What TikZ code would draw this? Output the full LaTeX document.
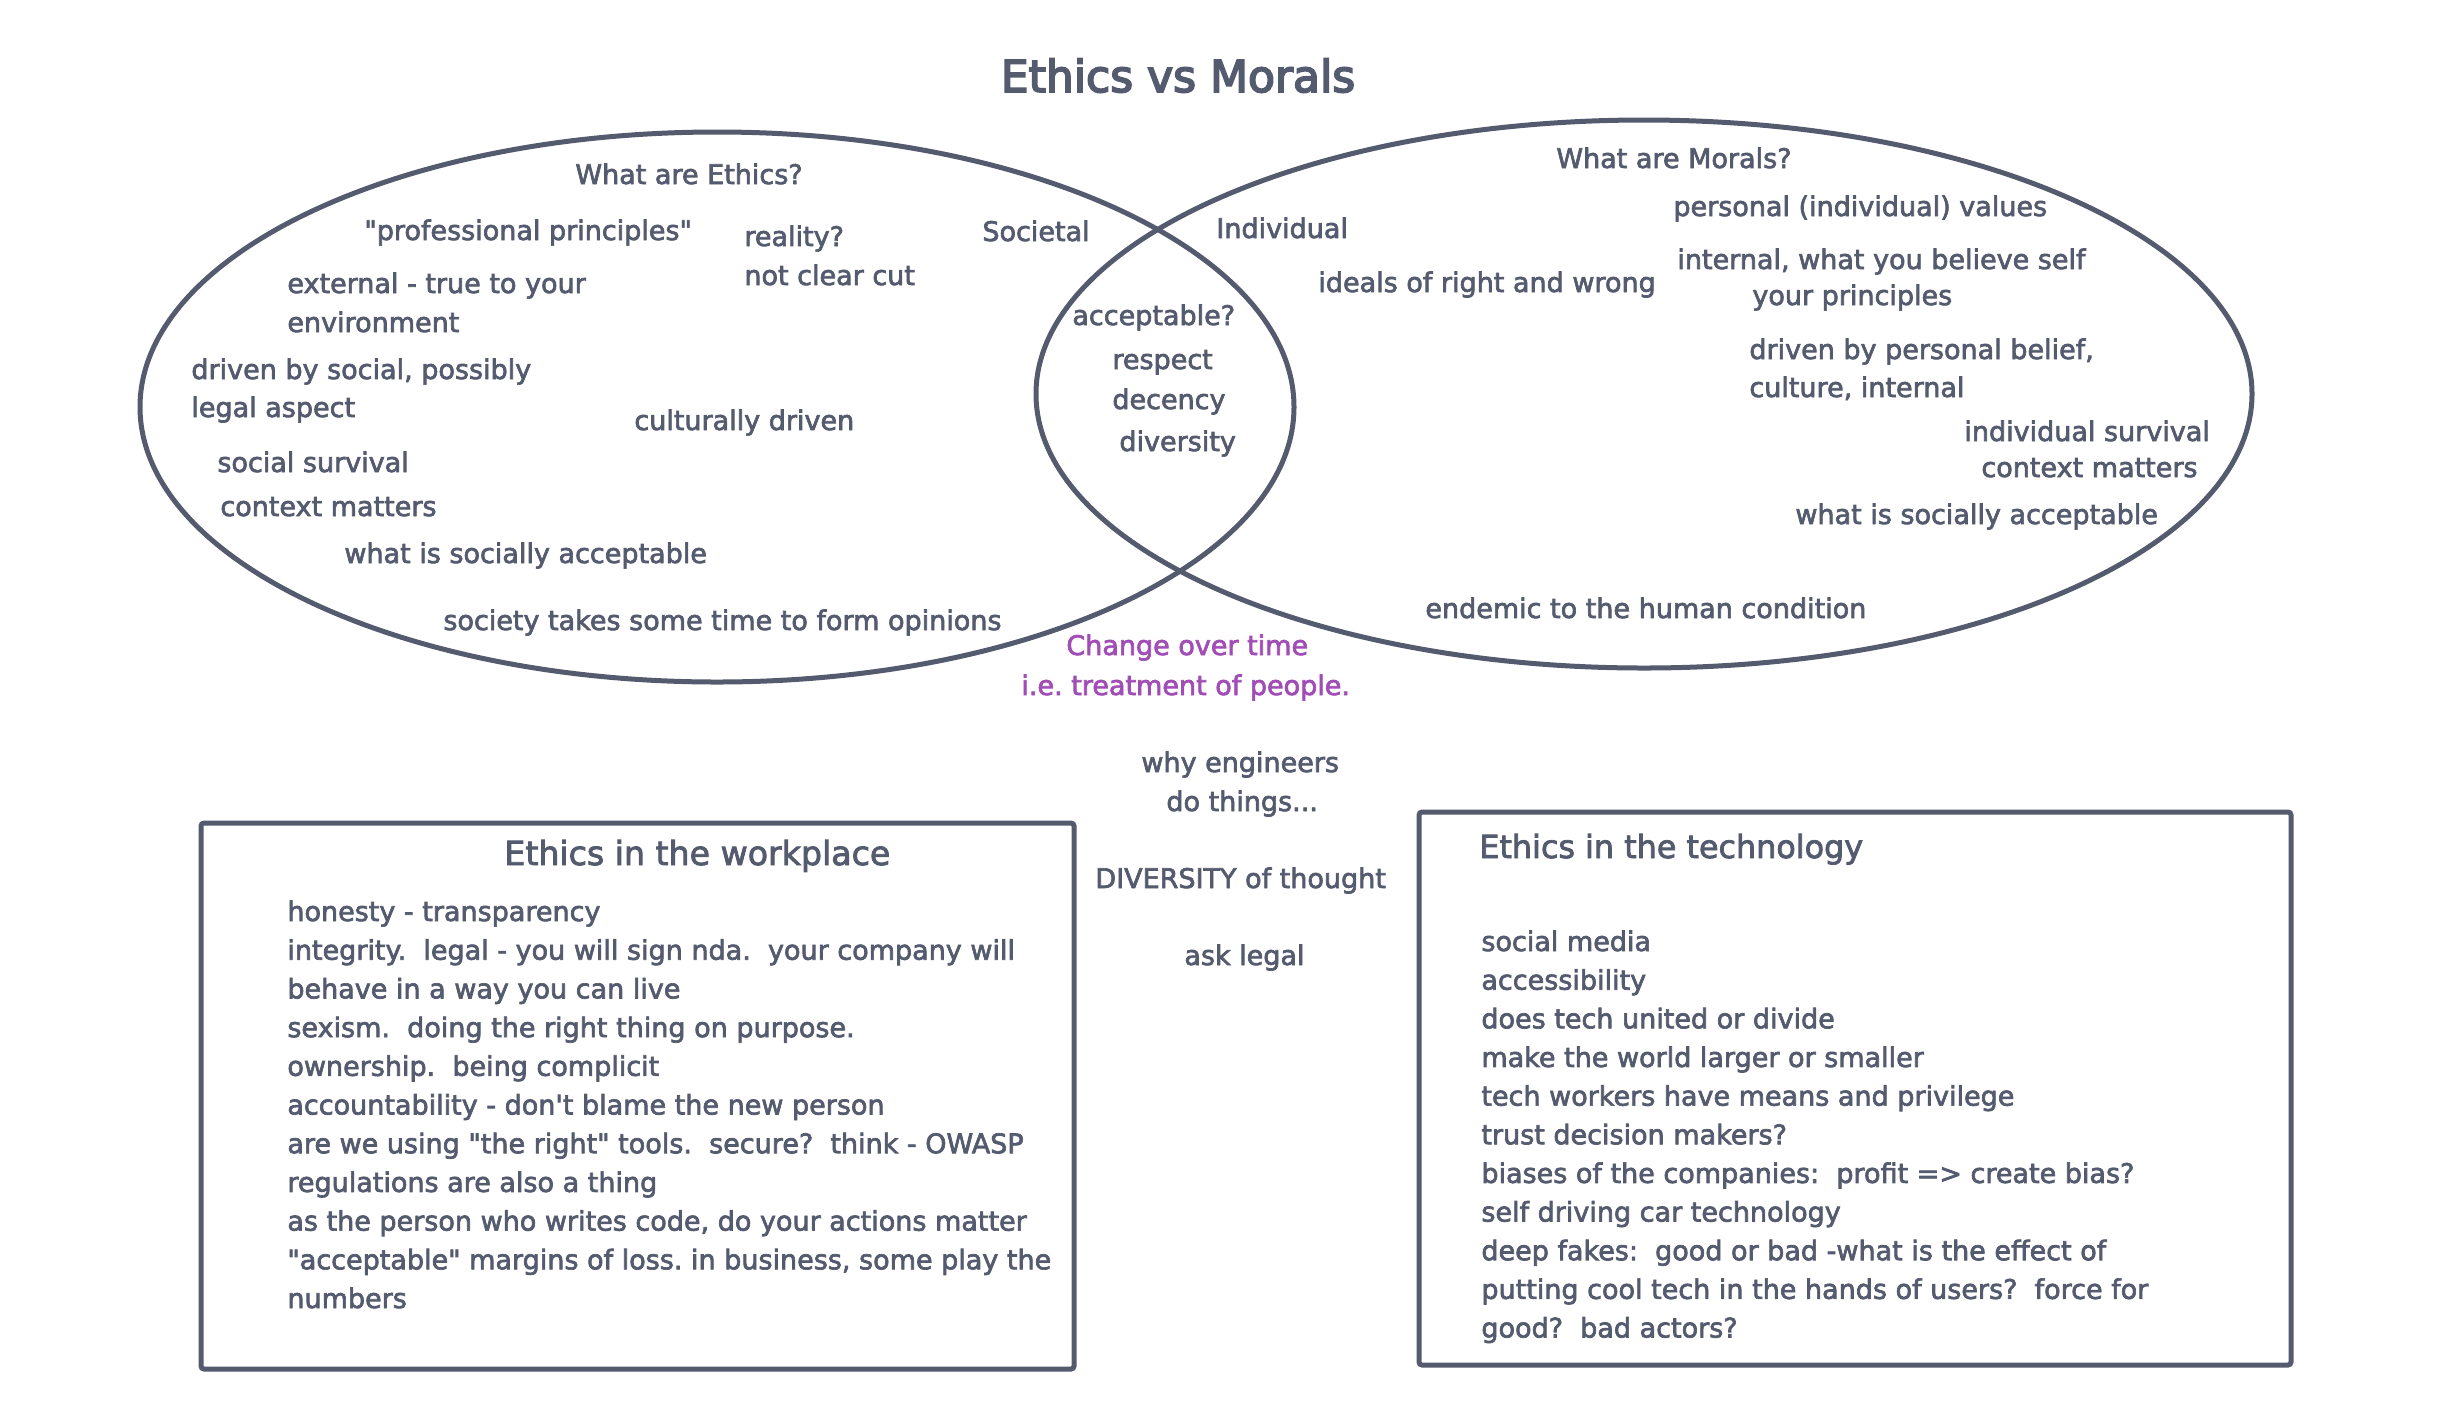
\documentclass[tikz,border=0pt]{standalone}
\usepackage{fontspec}
\setmainfont{DejaVu Sans}[Ligatures=TeXOff, FakeBold=2.5]
\newfontfamily\titlefont{DejaVu Sans}[Ligatures=TeXOff, FakeBold=4]
\usetikzlibrary{shapes.geometric}
\definecolor{ink}{HTML}{555B6E}
\definecolor{plum}{HTML}{A04DB5}
\begin{document}
\frenchspacing
\begin{tikzpicture}[x=0.5pt,y=-0.5pt,
  txt/.style={anchor=base west, inner sep=0pt, text=ink, font=\fontsize{13.5pt}{16pt}\selectfont},
  ptxt/.style={txt, text=plum},
  head/.style={anchor=base west, inner sep=0pt, text=ink, font=\fontsize{#1}{20pt}\selectfont},
  ring/.style={draw=ink, line width=2.5pt, ellipse, inner sep=0pt, outer sep=0pt},
  panel/.style={draw=ink, line width=2.5pt, rectangle, rounded corners=1.5pt, inner sep=0pt}]
\useasboundingbox (0,0) rectangle (2452,1426);

% title
\node[anchor=base, inner sep=0pt, text=ink, font=\titlefont\fontsize{22pt}{26pt}\selectfont] (title) at (1178,92) {Ethics vs Morals};

% the two circles of the Venn diagram
\node[ring, minimum width=577pt, minimum height=275pt] (ethics) at (717,407) {};
\node[ring, minimum width=608pt, minimum height=274pt] (morals) at (1644,394) {};

% Ethics side
\node[txt] (e1) at (575,184) {What are Ethics?};
\node[txt] (e2) at (364,240) {"professional principles"};
\node[txt] (e3) at (744,246) {reality?};
\node[txt] (e4) at (744,285) {not clear cut};
\node[txt] (e5) at (982,241) {Societal};
\node[txt] (e6) at (287,293) {external - true to your};
\node[txt] (e7) at (287,332) {environment};
\node[txt] (e8) at (191,379) {driven by social, possibly};
\node[txt] (e9) at (191,417) {legal aspect};
\node[txt] (e10) at (634,430) {culturally driven};
\node[txt] (e11) at (217,472) {social survival};
\node[txt] (e12) at (220,516) {context matters};
\node[txt] (e13) at (344,563) {what is socially acceptable};
\node[txt] (e14) at (443,630) {society takes some time to form opinions};

% overlap
\node[txt] (c1) at (1072,325) {acceptable?};
\node[txt] (c2) at (1112,369) {respect};
\node[txt] (c3) at (1112,409) {decency};
\node[txt] (c4) at (1119,451) {diversity};

% Morals side
\node[txt] (m1) at (1556,168) {What are Morals?};
\node[txt] (m2) at (1216,238) {Individual};
\node[txt] (m3) at (1673,216) {personal (individual) values};
\node[txt] (m4) at (1318,292) {ideals of right and wrong};
\node[txt] (m5) at (1677,269) {internal, what you believe self};
\node[txt] (m6) at (1752,305) {your principles};
\node[txt] (m7) at (1749,359) {driven by personal belief,};
\node[txt] (m8) at (1749,397) {culture, internal};
\node[txt] (m9) at (1964,441) {individual survival};
\node[txt] (m10) at (1981,477) {context matters};
\node[txt] (m11) at (1795,524) {what is socially acceptable};
\node[txt] (m12) at (1425,618) {endemic to the human condition};

% middle notes
\node[ptxt] (p1) at (1066,655) {Change over time};
\node[ptxt] (p2) at (1021,695) {i.e. treatment of people.};
\node[txt] (n1) at (1141,772) {why engineers};
\node[txt] (n2) at (1166,811) {do things...};
\node[txt] (n3) at (1095,888) {DIVERSITY of thought};
\node[txt] (n4) at (1184,965) {ask legal};

% panels
\node[panel, minimum width=436.5pt, minimum height=273pt] (work) at (637.5,1096) {};
\node[panel, minimum width=436pt, minimum height=276.5pt] (tech) at (1855,1088.5) {};

\node[head=16.6pt] (workhead) at (504,865) {Ethics in the workplace};
\node[head=15.9pt] (techhead) at (1479,858) {Ethics in the technology};

\foreach \t [count=\i from 0] in {
  {honesty - transparency},
  {integrity.\ \ legal - you will sign nda.\ \ your company will},
  {behave in a way you can live},
  {sexism.\ \ doing the right thing on purpose.},
  {ownership.\ \ being complicit},
  {accountability - don't blame the new person},
  {are we using "the right" tools.\ \ secure?\ \ think - OWASP},
  {regulations are also a thing},
  {as the person who writes code, do your actions matter},
  {"acceptable" margins of loss. in business, some play the},
  {numbers}}
  \node[txt] (w\i) at (287,921+38.7*\i) {\t};

\foreach \t [count=\i from 0] in {
  {social media},
  {accessibility},
  {does tech united or divide},
  {make the world larger or smaller},
  {tech workers have means and privilege},
  {trust decision makers?},
  {biases of the companies:\ \ profit => create bias?},
  {self driving car technology},
  {deep fakes:\ \ good or bad -what is the effect of},
  {putting cool tech in the hands of users?\ \ force for},
  {good?\ \ bad actors?}}
  \node[txt] (t\i) at (1481,951+38.65*\i) {\t};
\end{tikzpicture}
\end{document}
